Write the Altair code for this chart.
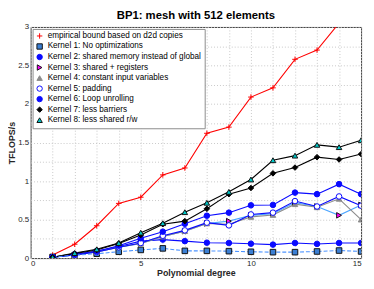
import altair as alt
import pandas as pd

degrees = list(range(1, 16))

series_names = [
    "empirical bound based on d2d copies",
    "Kernel 1: No optimizations",
    "Kernel 2: shared memory instead of global",
    "Kernel 3: shared + registers",
    "Kernel 4: constant input variables",
    "Kernel 5: padding",
    "Kernel 6: Loop unrolling",
    "Kernel 7: less barriers",
    "Kernel 8: less shared r/w",
]
line_keys = ["line%d" % i for i in range(len(series_names))]

empirical = [0.04, 0.18, 0.42, 0.71, 0.79, 1.08, 1.17, 1.62, 1.70, 2.09, 2.21, 2.58, 2.70, 3.05, 3.35]
kernel1 = [0.015, 0.037, 0.057, 0.082, 0.106, 0.126, 0.094, 0.094, 0.090, 0.082, 0.077, 0.077, 0.086, 0.098, 0.086]
kernel2 = [0.010, 0.045, 0.090, 0.150, 0.220, 0.240, 0.220, 0.200, 0.196, 0.187, 0.175, 0.196, 0.184, 0.196, 0.196]
kernel3 = [0.010, 0.040, 0.080, 0.140, 0.190, 0.280, 0.350, 0.450, 0.480, 0.555, 0.575, 0.720, 0.670, 0.555, 0.690]
kernel4 = [0.010, 0.040, 0.080, 0.140, 0.190, 0.280, 0.350, 0.450, 0.440, 0.535, 0.560, 0.700, 0.660, 0.770, 0.500]
kernel5 = [0.010, 0.040, 0.080, 0.140, 0.196, 0.290, 0.360, 0.460, 0.425, 0.567, 0.590, 0.740, 0.670, 0.800, 0.680]
kernel6 = [0.012, 0.050, 0.090, 0.160, 0.257, 0.343, 0.445, 0.550, 0.590, 0.685, 0.690, 0.850, 0.830, 0.960, 0.830]
kernel7 = [0.012, 0.060, 0.105, 0.190, 0.300, 0.440, 0.480, 0.640, 0.830, 0.910, 1.100, 1.175, 1.310, 1.280, 1.350]
kernel8 = [0.012, 0.065, 0.114, 0.196, 0.330, 0.453, 0.596, 0.718, 0.860, 1.020, 1.270, 1.330, 1.470, 1.440, 1.530]

all_values = [empirical, kernel1, kernel2, kernel3, kernel4, kernel5, kernel6, kernel7, kernel8]

x_ticks = list(range(0, 16))
y_ticks = [i * 0.25 for i in range(0, 13)]

rows = []
for name, key, vals in zip(series_names, line_keys, all_values):
    for d, v in zip(degrees, vals):
        rows.append({"series": name, "line_key": key, "degree": d, "tflops": v,
                     "dashed": name.startswith("Kernel 1:")})
df = pd.DataFrame(rows)

line_colors = ["#ff0000", "#4d94ff", "#0a0aff", "#4da6ff", "#8c8c8c", "#0a0aff", "#0a0aff", "#000000", "#000000"]
shapes = ["M-1,0L1,0M0,-1L0,1", "square", "circle", "triangle-right", "triangle-up", "circle", "circle", "diamond", "triangle-up"]
fills = ["transparent", "#3b7fd4", "#0a0aff", "#ff00ff", "#8c8c8c", "#ffffff", "#0a0aff", "#000000", "#00c8c8"]
strokes = ["#ff0000", "#111111", "#0a0aff", "#111111", "#8c8c8c", "#0a0aff", "#0a0aff", "#000000", "#111111"]

x_enc = alt.X(
    "degree:Q",
    scale=alt.Scale(domain=[0, 15], nice=False),
    axis=alt.Axis(
        title="Polynomial degree",
        values=x_ticks,
        labelExpr="datum.value % 5 == 0 ? datum.label : ''",
    ),
)
y_enc = alt.Y(
    "tflops:Q",
    scale=alt.Scale(domain=[0, 3], nice=False),
    axis=alt.Axis(
        title="TFLOPS/s",
        values=y_ticks,
        labelExpr="(datum.value * 2) % 1 == 0 ? format(datum.value, '~g') : ''",
    ),
)

line_color = alt.Color("line_key:N", scale=alt.Scale(domain=line_keys, range=line_colors), legend=None)

solid_lines = alt.Chart(df).transform_filter("!datum.dashed").mark_line(clip=True, strokeWidth=1.1).encode(
    x=x_enc, y=y_enc, color=line_color, detail="series:N",
)
dashed_lines = alt.Chart(df).transform_filter("datum.dashed").mark_line(
    clip=True, strokeWidth=1.1, strokeDash=[4, 2]
).encode(
    x=x_enc, y=y_enc, color=line_color, detail="series:N",
)

points = alt.Chart(df).mark_point(clip=True, filled=True, opacity=1, strokeWidth=1, size=32).encode(
    x=x_enc,
    y=y_enc,
    shape=alt.Shape("series:N", scale=alt.Scale(domain=series_names, range=shapes), title=None),
    fill=alt.Fill("series:N", scale=alt.Scale(domain=series_names, range=fills), title=None),
    stroke=alt.Stroke("series:N", scale=alt.Scale(domain=series_names, range=strokes), title=None),
)

chart = (
    alt.layer(solid_lines, dashed_lines, points)
    .properties(
        width=336,
        height=235,
        title=alt.TitleParams("BP1: mesh with 512 elements", fontSize=11.5, fontWeight="bold",
                              font="Liberation Sans", color="#000000", offset=2, anchor="middle"),
        autosize=alt.AutoSizeParams(type="none"),
        padding={"left": 23, "top": 17, "right": 5, "bottom": 21},
    )
    .configure_view(stroke="#3c3c3c", strokeWidth=1)
    .configure_axis(
        grid=True,
        gridColor="#c8c8c8",
        gridDash=[1, 2],
        gridWidth=1,
        domain=False,
        ticks=False,
        labelFont="Liberation Sans",
        labelFontSize=8,
        labelColor="#262626",
        labelPadding=2,
        titleFont="Liberation Sans",
        titleFontSize=9,
        titleFontWeight="bold",
        titleColor="#262626",
        titlePadding=1,
    )
    .configure_legend(
        orient="top-left",
        offset=2,
        fillColor="#ffffff",
        strokeColor="#8c8c8c",
        padding=3,
        labelFont="Liberation Sans",
        labelFontSize=8.3,
        labelColor="#000000",
        labelLimit=300,
        rowPadding=0.7,
        symbolSize=30,
        symbolStrokeWidth=1,
        cornerRadius=0,
    )
)

chart.save("out.html", embed_options={"renderer": "svg", "actions": False})
